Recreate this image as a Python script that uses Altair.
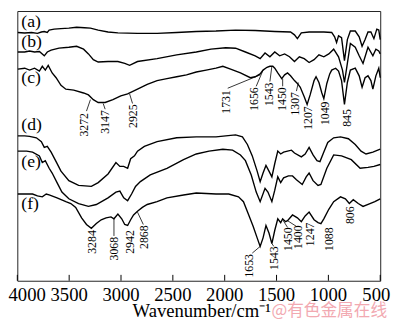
import altair as alt
import pandas as pd

# ---- spectra: wavenumber (cm-1) and transmittance (arbitrary offset units) ----
wn_a = [3995, 3929, 3863, 3806, 3768, 3740, 3711, 3693, 3645, 3579, 3503, 3428, 3352, 3295, 3220, 3125, 3030,
        2841, 2652, 2463, 2274, 2084, 1895, 1706, 1517, 1365, 1327, 1299, 1261, 1186, 1044, 968, 940, 921, 902,
        873, 845, 817, 788, 741, 703, 675, 646, 618, 590, 561, 533, 514, 500]
t_a = [260.5, 260, 260.5, 259.5, 261, 261.5, 260.5, 263, 264, 264.5, 265, 266, 265.5, 265, 263, 261, 260,
       259.5, 259.5, 260.5, 261.5, 262, 263, 262.5, 261.5, 261, 258, 254, 260, 261, 261, 260.5, 256, 250, 257,
       255, 231, 253, 262, 262, 256, 246, 253, 261, 261, 254, 264, 263, 253]

wn_b = [3995, 3929, 3882, 3834, 3787, 3740, 3711, 3674, 3598, 3503, 3428, 3361, 3314, 3267, 3220, 3125, 3030,
        2964, 2917, 2841, 2652, 2463, 2274, 2132, 1990, 1895, 1800, 1706, 1658, 1611, 1564, 1517, 1470, 1422,
        1375, 1327, 1280, 1233, 1186, 1138, 1091, 1044, 996, 949, 902, 864, 845, 817, 788, 741, 703, 666, 618,
        571, 542, 514, 500]
t_b = [240, 240, 241, 240, 240.5, 236, 240, 242, 244, 245, 246, 243, 238, 232, 229.5, 230, 230,
       228, 226, 230, 233, 237, 240, 243, 244.5, 244, 240, 236, 233, 239, 235, 240, 236, 238,
       235, 230, 235, 233, 229, 232, 237, 235, 238, 243, 235, 221, 208, 228, 249, 245, 236, 228, 245,
       236, 243, 241, 238]

wn_c = [3995, 3929, 3882, 3834, 3787, 3759, 3730, 3702, 3664, 3626, 3579, 3532, 3456, 3361, 3314, 3267, 3220,
        3153, 3078, 3002, 2936, 2841, 2747, 2652, 2557, 2463, 2368, 2274, 2179, 2084, 2018, 1943, 1848, 1753,
        1706, 1658, 1630, 1592, 1564, 1536, 1517, 1488, 1450, 1422, 1394, 1365, 1327, 1299, 1271, 1233, 1205,
        1176, 1138, 1119, 1091, 1063, 1044, 1015, 987, 968, 930, 902, 873, 845, 817, 788, 741, 703, 675, 646,
        618, 590, 571, 542, 514, 500]
t_c = [222, 223, 221, 223, 220, 225, 221, 226, 218, 213, 205, 201, 200, 197, 195, 190, 187,
       187, 190, 194, 196, 201, 206, 210, 212, 214, 216, 219, 221, 223, 225, 222, 218, 213,
       214, 217, 221, 224, 225, 225, 223, 218, 212, 216, 218, 215, 210, 207, 203, 193, 185,
       195, 210, 214, 208, 197, 191, 207, 217, 221, 223, 220, 210, 185, 208, 221, 223, 215, 203, 213,
       215, 210, 201, 215, 223, 213]

wn_d = [3995, 3929, 3882, 3816, 3768, 3740, 3711, 3674, 3626, 3579, 3503, 3409, 3286, 3220, 3125, 3049, 3011,
        2974, 2936, 2907, 2870, 2841, 2775, 2652, 2463, 2274, 2084, 1990, 1895, 1829, 1781, 1734, 1687, 1658,
        1630, 1602, 1573, 1545, 1517, 1488, 1460, 1432, 1394, 1356, 1327, 1261, 1224, 1186, 1148, 1110, 1081,
        1044, 1006, 949, 883, 807, 741, 685, 637, 571, 500]
t_d = [152, 152, 151.5, 150, 146, 140, 141, 135, 125, 115, 105, 100, 99, 103, 112, 124, 120,
       120, 118, 128, 131, 136, 141, 146, 150, 151, 151, 152, 153, 151, 143, 131, 115, 104,
       113, 121, 115, 109, 123, 136, 133, 135, 136, 137, 134, 130, 133, 140, 132, 126, 125,
       135, 145, 150, 151, 149, 143, 136, 133, 135, 138]

wn_e = [3995, 3910, 3853, 3787, 3759, 3730, 3693, 3664, 3617, 3570, 3503, 3409, 3314, 3238, 3125, 3049, 3011,
        2974, 2936, 2898, 2860, 2813, 2718, 2557, 2397, 2274, 2151, 2018, 1924, 1848, 1800, 1744, 1696, 1658,
        1611, 1583, 1545, 1517, 1488, 1460, 1432, 1385, 1346, 1308, 1252, 1214, 1186, 1148, 1100, 1072, 1015,
        949, 873, 779, 694, 618, 561, 500]
t_e = [136, 136, 135, 131, 124, 126, 118, 113, 103, 93, 86, 81, 78, 80, 87, 93, 94,
       87, 84, 91, 99, 104, 111, 118, 127, 133, 136, 138, 137, 132, 126, 111, 93, 83,
       97, 93, 83, 95, 109, 103, 108, 110, 110, 106, 101, 109, 113, 105, 100, 101, 118,
       132, 131, 127, 118, 119, 120, 122]

wn_f = [3995, 3853, 3806, 3759, 3721, 3693, 3617, 3532, 3484, 3437, 3380, 3333, 3286, 3238, 3191, 3144, 3097,
        3068, 3030, 2993, 2964, 2936, 2907, 2879, 2841, 2794, 2747, 2652, 2557, 2397, 2274, 2084, 1961, 1867,
        1819, 1772, 1725, 1687, 1658, 1630, 1602, 1573, 1545, 1517, 1488, 1460, 1441, 1413, 1394, 1346, 1299,
        1261, 1224, 1186, 1138, 1100, 1072, 1044, 996, 949, 883, 836, 798, 760, 712, 666, 599, 552, 500]
t_f = [91, 91, 89, 88, 91, 90, 87, 83, 81, 77, 66, 59, 55, 60, 64, 66, 67,
       65, 70, 65, 59, 58, 64, 69, 73, 77, 80, 83, 87, 90, 92, 91, 91, 88,
       83, 70, 57, 45, 36, 45, 58, 50, 39, 53, 65, 61, 65, 62, 63, 69, 66,
       62, 68, 72, 64, 61, 60, 65, 75, 83, 88, 86, 81, 85, 81, 78, 81, 83, 86]

curve_names = ["(a)", "(b)", "(c)", "(d)", "(e)", "(f)"]
curve_wn = [wn_a, wn_b, wn_c, wn_d, wn_e, wn_f]
curve_t = [t_a, t_b, t_c, t_d, t_e, t_f]

# curve labels
label_wn = [3962, 3962, 3962, 3962, 3962, 3962]
label_t = [271, 250, 213, 163, 124, 80.5]

# peak annotations: text, text position (wn, top of text), pointer start/end
ann_text = ["3272", "3147", "2925", "1731", "1656", "1543", "1450", "1307", "1207", "1049", "845",
            "3284", "3068", "2942", "2868", "1653", "1543", "1450", "1400", "1247", "1088", "806"]
ann_wn = [3352, 3153, 2879, 1990, 1715, 1573, 1450, 1318, 1195, 1034, 817,
          3276, 3068, 2917, 2775, 1763, 1526, 1384, 1290, 1176, 996, 788]
ann_top = [176, 179, 185, 200, 203, 208, 203, 198, 183, 188, 180,
           53, 46, 53, 58, 28, 36, 56, 58, 61, 56, 78]

ptr_wn1 = [3295, 3172, 2917, 1658, 1630, 1545, 1441, 1290, 3068, 2841, 1658, 1545, 1441, 1394]
ptr_t1 = [190, 186, 196, 216, 221, 225, 212, 208, 65, 72, 36, 39, 64, 63]
ptr_wn2 = [3333, 3153, 2889, 1971, 1696, 1564, 1441, 1308, 3068, 2785, 1734, 1526, 1394, 1308]
ptr_t2 = [178, 180, 186, 202, 204, 209, 204, 199, 47, 59, 29, 36, 56, 57]

tick_values = [4000, 3500, 3000, 2500, 2000, 1500, 1000, 500]
tick_labels = ["4000", "3500", "3000", "2500", "2000", "1500", "1000", "500"]
x_title = "Wavenumber/cm\u207b\u00b9"
watermark = "@有色金属在线"

# ---- tables ----
rows = []
for name, w, t in zip(curve_names, curve_wn, curve_t):
    for x, y in zip(w, t):
        rows.append({"series": name, "wn": x, "T": y})
df = pd.DataFrame(rows)
lab_df = pd.DataFrame({"name": curve_names, "wn": label_wn, "T": label_t})
ann_df = pd.DataFrame({"txt": ann_text, "wn": ann_wn, "T": ann_top})
ptr_df = pd.DataFrame({"wn": ptr_wn1, "T": ptr_t1, "wn2": ptr_wn2, "T2": ptr_t2})
tick_df = pd.DataFrame({"wn": tick_values, "lab": tick_labels})

SERIF = "Liberation Serif"
xscale = alt.Scale(domain=[4000, 500])
yscale = alt.Scale(domain=[0, 283])


def X(field="wn"):
    return alt.X(f"{field}:Q", scale=xscale, axis=None)


def Y(field="T"):
    return alt.Y(f"{field}:Q", scale=yscale, axis=None)


lines = alt.Chart(df).mark_line(color="black", strokeWidth=1.4).encode(
    x=X(), y=Y(), detail="series:N")

labels = alt.Chart(lab_df).mark_text(align="left", baseline="middle", font=SERIF,
                                     fontSize=18, color="black").encode(x=X(), y=Y(), text="name:N")

anns = alt.Chart(ann_df).mark_text(angle=270, align="right", baseline="middle", font=SERIF,
                                   fontSize=12, color="black").encode(x=X(), y=Y(), text="txt:N")

ptrs = alt.Chart(ptr_df).mark_rule(color="black", strokeWidth=0.8).encode(
    x=X(), y=Y(), x2="wn2:Q", y2="T2:Q")

ticks = alt.Chart(tick_df).mark_rule(color="black", strokeWidth=1).encode(
    x=X(), y=alt.value(275), y2=alt.value(269))

tick_base = alt.Chart(tick_df).encode(x=X(), y=alt.value(290), text="lab:N")
tick_mid = tick_base.mark_text(font=SERIF, fontSize=19, color="black",
                               align="center", baseline="middle").transform_filter(
    (alt.datum.wn < 4000) & (alt.datum.wn > 500))
tick_first = tick_base.mark_text(font=SERIF, fontSize=19, color="black",
                                 align="center", baseline="middle", dx=10).transform_filter(
    alt.datum.wn == 4000)
tick_last = tick_base.mark_text(font=SERIF, fontSize=19, color="black",
                                align="center", baseline="middle", dx=-4).transform_filter(
    alt.datum.wn == 500)

title = alt.Chart(pd.DataFrame({"t": [x_title]})).mark_text(
    font=SERIF, fontSize=19, color="black", align="center", baseline="middle"
).encode(x=alt.value(188), y=alt.value(306), text="t:N")

mark = alt.Chart(pd.DataFrame({"t": [watermark]})).mark_text(
    font="Noto Sans CJK SC", fontSize=17, color="#f2a9b1", align="center", baseline="middle"
).encode(x=alt.value(318), y=alt.value(306), text="t:N")

chart = alt.layer(lines, labels, anns, ptrs, ticks, tick_mid, tick_first, tick_last,
                  title, mark).properties(
    width=370, height=275,
    autosize=alt.AutoSizeParams(type="none"),
    padding={"left": 9.5, "top": 0, "right": 12, "bottom": 40},
).configure_view(stroke="#222", strokeWidth=1)

chart.save("out.html", embed_options={"renderer": "svg", "actions": False})
